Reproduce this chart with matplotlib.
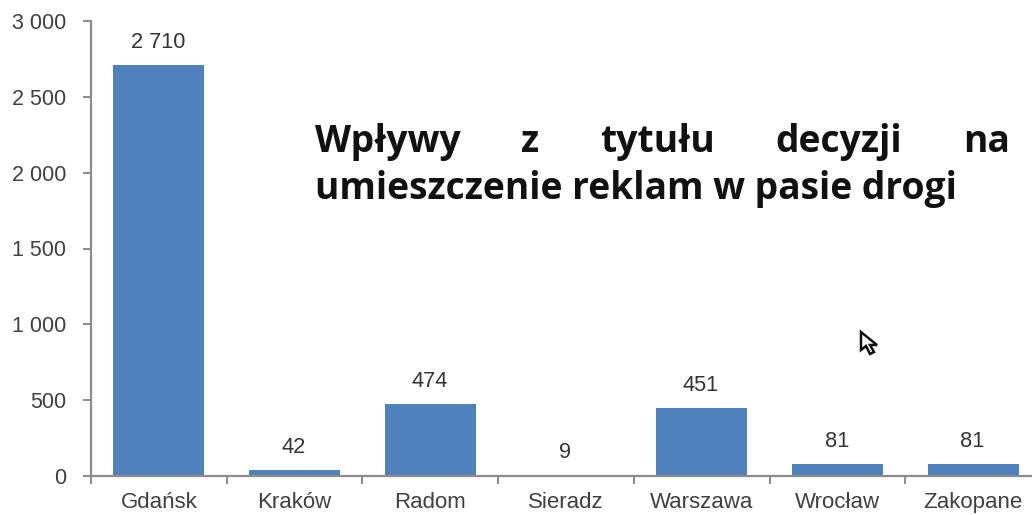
#!/usr/bin/python3

import matplotlib.pyplot as plt
from matplotlib.patches import Polygon

# Dane
miasta = ['Gdańsk', 'Kraków', 'Radom', 'Sieradz', 'Warszawa', 'Wrocław', 'Zakopane']
wplywy = [2710, 42, 474, 9, 451, 81, 81]
y_ticks = [0, 500, 1000, 1500, 2000, 2500, 3000]
tytul_1 = ['Wpływy', 'z', 'tytułu', 'decyzji', 'na']
tytul_1_x = [315, 521, 600, 775, 963]
tytul_2 = 'umieszczenie reklam w pasie drogi'

W, H = 1032, 515
ODSTEP = 135.7
LEWO, GORA, DOL = 91, 21, 476

plt.rcParams['font.family'] = ['Liberation Sans', 'DejaVu Sans']

fig = plt.figure(figsize=(W / 100, H / 100), dpi=100)
grafico = fig.add_axes([LEWO / W, 1 - DOL / H, (W - LEWO) / W, (DOL - GORA) / H])

pos = list(range(len(miasta)))
grafico.bar(pos, wplywy, width=0.67, color='#4f81bd', zorder=1)

# Etykiety wartosci
for x, v in zip(pos, wplywy):
    grafico.annotate(f'{v:,}'.replace(',', ' '), (x - 0.005, v), xytext=(0, 8.5), textcoords='offset points',
                     ha='center', va='bottom', fontsize=15.7, color='#333333')

# Osie
for lado in ['top', 'right']:
    grafico.spines[lado].set_visible(False)
for lado in ['left', 'bottom']:
    grafico.spines[lado].set_color('#8c8c8c')
    grafico.spines[lado].set_linewidth(1.6)
    grafico.spines[lado].set_zorder(3)

grafico.set_yticks(y_ticks)
grafico.set_yticklabels([f'{v:,}'.replace(',', ' ') for v in y_ticks])
grafico.tick_params(axis='y', length=6, width=1.4, color='#8c8c8c', labelsize=15.5,
                    labelcolor='#404040', pad=12)

# Ticki miedzy kategoriami, etykiety na srodku
grafico.set_xticks([p - 0.5 for p in pos])
grafico.set_xticklabels([])
grafico.set_xticks(pos, miasta, minor=True)
grafico.tick_params(axis='x', which='major', length=6, width=1.4, color='#8c8c8c')
grafico.tick_params(axis='x', which='minor', length=0, labelsize=16, labelcolor='#404040', pad=11.5)

grafico.set_xlim(-0.5, (W - LEWO) / ODSTEP - 0.5)
grafico.set_ylim(0, 3000)

# Tytul, pierwsza linia wyjustowana
for palabra, x in zip(tytul_1, tytul_1_x):
    fig.text(x / W, 1 - 152 / H, palabra, family='Open Sans', weight='bold',
             fontsize=26.85, color='#111111', ha='left', va='baseline')
fig.text(315 / W, 1 - 199 / H, tytul_2, family='Open Sans', weight='bold',
         fontsize=26.85, color='#111111', ha='left', va='baseline')

# Kursor myszy
kursor = [(861, 332), (861, 350), (866, 346), (870, 354), (874, 352), (870, 345), (877, 345)]
fig.add_artist(Polygon([(x / W, 1 - y / H) for x, y in kursor], closed=True,
                       transform=fig.transFigure, facecolor='white', edgecolor='#111111', linewidth=1.8))

plt.savefig('out.png', dpi=100)
